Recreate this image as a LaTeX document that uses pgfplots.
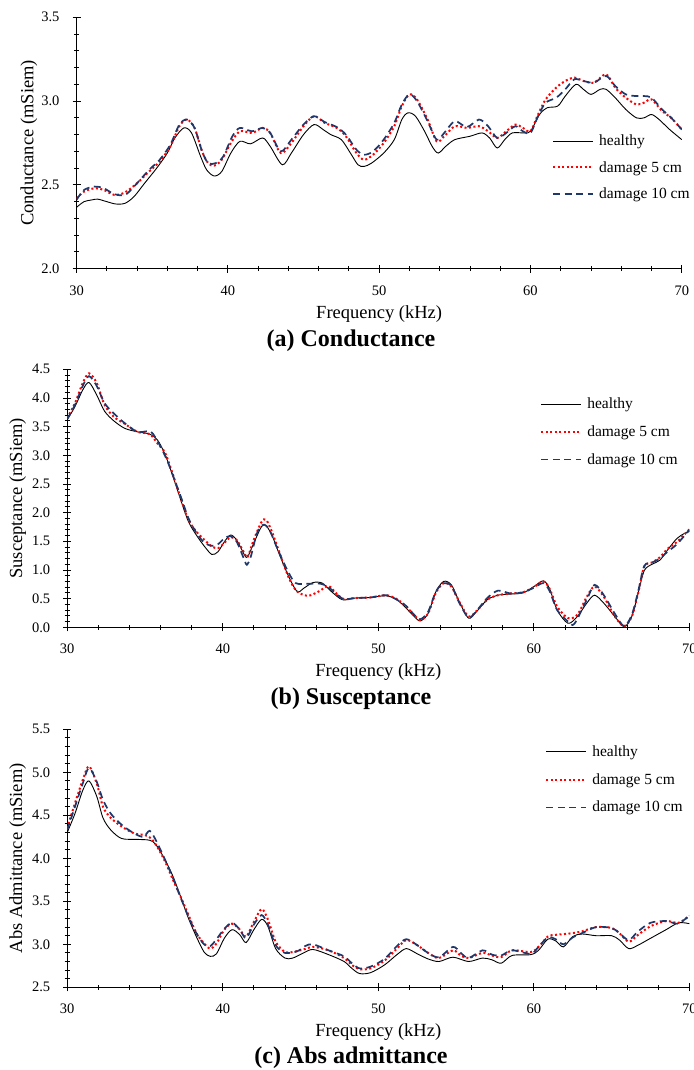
\documentclass[border=0pt]{standalone}
\usepackage{fontspec}
\setmainfont{Liberation Serif}
\usepackage{pgfplots}
\pgfplotsset{compat=1.18}
\definecolor{dmgblue}{RGB}{31,56,108}

\pgfplotsset{
  admit/.style={
    scale only axis,
    axis lines=left,
    axis line style={-, line width=1.1pt},
    xmin=30, xmax=70, xtick={30,40,...,70}, minor x tick num=4,
    minor y tick num=4,
    tick align=center,
    major tick length=8pt, minor tick length=5pt,
    every tick/.append style={black, line width=0.9pt},
    tick label style={font=\fontsize{14.5}{16}\selectfont},
    /pgf/number format/assume math mode=true,
    y tick label style={/pgf/number format/fixed, /pgf/number format/fixed zerofill, /pgf/number format/precision=1},
    yticklabel shift=9.5pt,
    xticklabel shift=9.5pt,
    label style={font=\fontsize{18.5}{20}\selectfont},
    xlabel={Frequency (kHz)},
    xlabel style={at={(axis description cs:0.5,0)}, anchor=center, yshift=-45pt},
    legend cell align=left,
    legend style={draw=none, fill=none, inner sep=0pt, anchor=north west,
      font=\fontsize{15.5}{17}\selectfont,
      nodes={inner sep=1pt},
      /tikz/every odd column/.append style={column sep=4pt}},
    legend image code/.code={\draw[##1] (0pt,0pt) -- (40pt,0pt);},
  },
  healthy/.style={black, line width=0.9pt, smooth, tension=0.5},
  dmgfive/.style={red, line width=2pt, dash pattern=on 2pt off 2.5pt, smooth, tension=0.5},
  dmgten/.style={dmgblue, line width=1.7pt, dash pattern=on 7pt off 4.5pt, smooth, tension=0.5},
}

\begin{document}
\begin{tikzpicture}
\useasboundingbox (0,0) rectangle (693pt,1070pt);

% (a) conductance
\begin{axis}[admit,
  at={(76.5pt,801.3pt)}, anchor=south west,
  width=605.3pt, height=251.4pt,
  ymin=2.0, ymax=3.5, ytick={2.0,2.5,3.0,3.5},
  ylabel={Conductance (mSiem)},
  ylabel style={at={(axis description cs:-0.0785,0.5)}, anchor=center},
  legend style={at={(axis description cs:0.7856,0.537)}, row sep=12.2pt},
]
\addplot[healthy] coordinates {(30,2.366) (30.5,2.40) (31,2.41) (31.4,2.415) (32,2.40) (32.6,2.386) (33.2,2.39) (33.8,2.43) (34.5,2.51) (35.3,2.60) (36,2.69) (36.5,2.78) (37.1,2.84) (37.6,2.81) (38.2,2.67) (38.6,2.59) (39.1,2.553) (39.6,2.58) (40.2,2.69) (40.8,2.76) (41.5,2.745) (42.3,2.78) (42.8,2.73) (43.6,2.62) (44.2,2.69) (45,2.80) (45.7,2.86) (46.3,2.83) (46.8,2.80) (47.5,2.77) (48.1,2.69) (48.6,2.62) (49,2.61) (49.5,2.63) (50.3,2.69) (51,2.77) (51.5,2.89) (51.9,2.93) (52.4,2.91) (53,2.82) (53.5,2.73) (53.9,2.69) (54.4,2.73) (55,2.77) (56,2.79) (56.8,2.81) (57.3,2.78) (57.8,2.72) (58.3,2.77) (58.8,2.81) (59.6,2.81) (60,2.82) (60.6,2.92) (61.1,2.96) (61.8,2.97) (62.3,3.03) (63,3.10) (63.5,3.07) (64,3.04) (64.6,3.07) (65,3.07) (65.6,3.02) (66.3,2.95) (67,2.90) (67.5,2.90) (68,2.92) (68.5,2.89) (69.2,2.83) (70,2.77)};
\addlegendentry{healthy}
\addplot[dmgfive] coordinates {(30,2.42) (30.5,2.46) (31.2,2.48) (31.8,2.47) (32.5,2.44) (33.2,2.455) (34,2.51) (34.8,2.58) (35.5,2.64) (36.2,2.73) (36.8,2.85) (37.3,2.89) (37.8,2.84) (38.3,2.70) (38.7,2.63) (39.1,2.615) (39.6,2.65) (40.2,2.75) (40.8,2.82) (41.6,2.81) (42.3,2.84) (42.8,2.81) (43.5,2.69) (44.2,2.75) (45,2.85) (45.7,2.91) (46.4,2.87) (47.2,2.84) (47.8,2.79) (48.5,2.69) (49,2.65) (49.6,2.68) (50.3,2.75) (51,2.85) (51.5,2.97) (52,3.04) (52.5,3.01) (53.2,2.89) (53.8,2.76) (54.3,2.79) (55,2.85) (55.8,2.84) (56.6,2.85) (57.2,2.82) (57.8,2.78) (58.4,2.82) (59,2.86) (59.5,2.84) (60,2.82) (60.5,2.92) (61,3.01) (61.7,3.08) (62.3,3.12) (62.9,3.14) (63.5,3.12) (64.2,3.11) (65,3.16) (65.6,3.08) (66.3,3.02) (67,2.98) (67.5,2.99) (68,3.01) (68.7,2.94) (69.3,2.90) (70,2.83)};
\addlegendentry{damage 5 cm}
\addplot[dmgten] coordinates {(30,2.41) (30.5,2.47) (31.2,2.49) (31.8,2.48) (32.5,2.445) (33.2,2.44) (33.8,2.49) (34.8,2.59) (35.5,2.65) (36.2,2.74) (36.8,2.86) (37.3,2.89) (37.8,2.84) (38.3,2.70) (38.7,2.63) (39.2,2.63) (39.7,2.67) (40.3,2.79) (40.8,2.84) (41.6,2.82) (42.3,2.84) (42.8,2.81) (43.5,2.70) (44.2,2.77) (45,2.86) (45.7,2.91) (46.4,2.875) (47.2,2.845) (47.8,2.80) (48.5,2.71) (49,2.68) (49.6,2.70) (50.3,2.77) (51,2.87) (51.5,2.98) (52,3.04) (52.5,3.00) (53.2,2.88) (53.8,2.77) (54.3,2.81) (55,2.88) (55.8,2.845) (56.6,2.89) (57.2,2.85) (57.8,2.78) (58.4,2.81) (59,2.85) (59.5,2.82) (60,2.81) (60.5,2.91) (61,2.99) (61.7,3.02) (62.3,3.07) (62.9,3.13) (63.5,3.12) (64.2,3.11) (65,3.15) (65.6,3.09) (66.3,3.04) (67,3.03) (67.5,3.03) (68,3.02) (68.7,2.95) (69.3,2.90) (70,2.83)};
\addlegendentry{damage 10 cm}
\end{axis}

% (b) susceptance
\begin{axis}[admit,
  at={(67.2pt,442.7pt)}, anchor=south west,
  width=622.2pt, height=258pt,
  ymin=0, ymax=4.5, ytick={0,0.5,...,4.5},
  ylabel={Susceptance (mSiem)},
  ylabel style={at={(axis description cs:-0.0796,0.5)}, anchor=center},
  legend style={at={(axis description cs:0.760,0.894)}, row sep=13.5pt},
]
\addplot[healthy] coordinates {(30,3.62) (30.5,3.85) (31,4.14) (31.4,4.27) (31.9,4.05) (32.4,3.77) (33,3.60) (33.7,3.47) (34.5,3.41) (35.3,3.37) (35.8,3.27) (36.3,3.01) (36.8,2.63) (37.3,2.22) (37.8,1.84) (38.3,1.61) (38.8,1.42) (39.3,1.27) (39.7,1.32) (40.1,1.49) (40.5,1.61) (40.9,1.52) (41.4,1.26) (41.6,1.23) (42,1.47) (42.5,1.76) (42.8,1.77) (43.2,1.58) (43.7,1.23) (44.3,0.85) (44.8,0.62) (45.2,0.68) (45.8,0.78) (46.4,0.77) (47,0.62) (47.7,0.48) (48.5,0.51) (49.5,0.52) (50.5,0.55) (51.2,0.48) (51.8,0.33) (52.3,0.19) (52.7,0.11) (53.2,0.24) (53.7,0.62) (54.2,0.80) (54.7,0.74) (55.2,0.45) (55.8,0.16) (56.3,0.27) (57,0.48) (57.7,0.56) (58.5,0.58) (59.3,0.60) (60,0.71) (60.6,0.81) (61,0.68) (61.5,0.30) (62.2,0.07) (62.8,0.19) (63.4,0.42) (63.9,0.56) (64.5,0.42) (65.2,0.19) (65.8,0.01) (66.3,0.19) (66.7,0.59) (67.1,0.99) (67.6,1.10) (68.1,1.17) (68.6,1.35) (69.2,1.55) (69.7,1.64) (70,1.67)};
\addlegendentry{healthy}
\addplot[dmgfive] coordinates {(30,3.65) (30.5,3.91) (31,4.26) (31.4,4.43) (31.9,4.26) (32.4,3.88) (33,3.67) (33.7,3.55) (34.5,3.41) (35.3,3.37) (35.8,3.21) (36.3,3.04) (36.8,2.66) (37.3,2.25) (37.8,1.87) (38.3,1.67) (38.8,1.53) (39.3,1.41) (39.7,1.38) (40.1,1.47) (40.5,1.57) (40.9,1.52) (41.4,1.29) (41.6,1.23) (42,1.53) (42.5,1.84) (42.8,1.87) (43.2,1.64) (43.7,1.26) (44.3,0.83) (44.8,0.62) (45.5,0.55) (46.2,0.63) (46.8,0.72) (47.3,0.59) (47.8,0.49) (48.5,0.51) (49.5,0.52) (50.5,0.56) (51.2,0.49) (51.8,0.36) (52.3,0.21) (52.7,0.13) (53.2,0.24) (53.7,0.60) (54.2,0.77) (54.7,0.71) (55.2,0.45) (55.8,0.19) (56.3,0.28) (57,0.48) (57.7,0.56) (58.5,0.59) (59.3,0.61) (60,0.70) (60.6,0.80) (61,0.68) (61.5,0.36) (62.2,0.16) (62.8,0.22) (63.4,0.53) (63.9,0.71) (64.5,0.53) (65.2,0.19) (65.8,0.02) (66.3,0.19) (66.7,0.59) (67.1,1.06) (67.6,1.13) (68.1,1.22) (68.6,1.37) (69.2,1.49) (70,1.71)};
\addlegendentry{damage 5 cm}
\addplot[dmgten] coordinates {(30,3.63) (30.5,3.88) (31,4.21) (31.4,4.38) (31.9,4.21) (32.4,3.91) (33,3.73) (33.7,3.56) (34.5,3.41) (35.2,3.42) (35.5,3.38) (36,3.15) (36.5,2.86) (37.3,2.28) (37.8,1.90) (38.3,1.65) (38.8,1.48) (39.3,1.42) (39.7,1.45) (40.1,1.55) (40.5,1.59) (40.9,1.49) (41.4,1.17) (41.55,1.09) (41.8,1.23) (42.2,1.64) (42.6,1.79) (43,1.70) (43.5,1.38) (44.2,0.97) (44.7,0.77) (45.5,0.76) (46.3,0.76) (46.8,0.70) (47.3,0.58) (47.8,0.49) (48.5,0.51) (49.5,0.52) (50.5,0.56) (51.2,0.48) (51.8,0.37) (52.3,0.22) (52.7,0.14) (53.2,0.27) (53.7,0.62) (54.2,0.77) (54.7,0.72) (55.2,0.43) (55.8,0.17) (56.3,0.28) (57,0.51) (57.7,0.64) (58.5,0.59) (59.3,0.61) (60,0.69) (60.6,0.77) (61,0.64) (61.5,0.30) (62.2,0.10) (62.6,0.06) (63.4,0.48) (63.9,0.74) (64.5,0.56) (65.2,0.24) (65.8,0.02) (66.3,0.22) (66.7,0.62) (67.1,1.07) (67.6,1.13) (68.1,1.20) (68.6,1.32) (69.2,1.45) (70,1.70)};
\addlegendentry{damage 10 cm}
\end{axis}

% (c) abs admittance
\begin{axis}[admit,
  at={(67.2pt,82.7pt)}, anchor=south west,
  width=622.2pt, height=258pt,
  ymin=2.5, ymax=5.5, ytick={2.5,3.0,...,5.5},
  ylabel={Abs Admittance (mSiem)},
  ylabel style={at={(axis description cs:-0.0796,0.5)}, anchor=center},
  legend style={at={(axis description cs:0.768,0.941)}, row sep=13.5pt},
]
\addplot[healthy] coordinates {(30,4.30) (30.5,4.52) (31,4.79) (31.4,4.90) (31.9,4.72) (32.3,4.47) (32.8,4.33) (33.5,4.23) (34.5,4.22) (35.3,4.21) (35.7,4.16) (36.3,3.98) (36.8,3.79) (37.3,3.55) (37.8,3.30) (38.3,3.09) (38.8,2.91) (39.2,2.86) (39.6,2.89) (40.1,3.07) (40.6,3.17) (41.1,3.11) (41.5,3.02) (42,3.17) (42.5,3.29) (42.9,3.21) (43.4,2.95) (44,2.84) (44.5,2.84) (45.2,2.90) (45.8,2.94) (46.8,2.88) (47.8,2.80) (48.3,2.72) (48.8,2.66) (49.5,2.67) (50.4,2.76) (51.2,2.88) (51.8,2.95) (52.5,2.89) (53.2,2.83) (53.9,2.80) (54.8,2.85) (55.8,2.80) (56.7,2.84) (57.3,2.82) (57.9,2.78) (58.6,2.87) (59.8,2.88) (60.3,2.93) (60.9,3.06) (61.4,3.04) (61.9,2.97) (62.5,3.09) (63.1,3.12) (64,3.10) (65,3.10) (65.5,3.05) (66.1,2.95) (66.7,2.99) (67.5,3.07) (68.5,3.17) (69.3,3.25) (70,3.24)};
\addlegendentry{healthy}
\addplot[dmgfive] coordinates {(30,4.35) (30.5,4.64) (31,4.91) (31.4,5.07) (31.9,4.87) (32.3,4.60) (32.8,4.47) (33.5,4.37) (34.3,4.29) (35,4.27) (35.4,4.23) (35.8,4.13) (36.3,3.96) (36.8,3.75) (37.3,3.55) (37.8,3.34) (38.3,3.13) (38.8,3.01) (39.2,2.95) (39.6,3.01) (40.1,3.17) (40.6,3.24) (41.1,3.17) (41.5,3.09) (42,3.26) (42.5,3.41) (42.9,3.29) (43.4,3.03) (44,2.91) (44.5,2.91) (45.2,2.94) (45.8,2.97) (46.8,2.93) (47.8,2.84) (48.3,2.76) (48.8,2.71) (49.5,2.72) (50.4,2.81) (51.2,2.95) (51.8,3.05) (52.5,2.99) (53.2,2.90) (53.9,2.84) (54.8,2.93) (55.3,2.87) (55.8,2.84) (56.7,2.90) (57.3,2.87) (57.9,2.85) (58.6,2.93) (59.8,2.91) (60.3,2.97) (60.9,3.09) (61.4,3.11) (62,3.12) (62.5,3.13) (63.1,3.15) (64,3.20) (65,3.19) (65.5,3.13) (66.1,3.03) (66.7,3.11) (67.5,3.21) (68.5,3.27) (69.3,3.25) (70,3.33)};
\addlegendentry{damage 5 cm}
\addplot[dmgten] coordinates {(30,4.33) (30.5,4.60) (31,4.87) (31.4,5.05) (31.9,4.89) (32.3,4.68) (32.8,4.52) (33.5,4.39) (34.3,4.29) (34.9,4.25) (35.3,4.32) (35.7,4.21) (36.3,3.98) (36.8,3.77) (37.3,3.54) (37.8,3.32) (38.3,3.13) (38.8,3.00) (39.2,2.98) (39.6,3.06) (40.1,3.18) (40.6,3.25) (41.1,3.17) (41.5,3.07) (42,3.23) (42.5,3.34) (42.9,3.23) (43.4,2.99) (44,2.90) (44.8,2.92) (45.3,2.98) (45.8,3.00) (46.8,2.93) (47.8,2.86) (48.3,2.78) (48.8,2.72) (49.5,2.74) (50.4,2.83) (51.2,2.98) (51.8,3.06) (52.5,2.99) (53.2,2.90) (53.9,2.85) (54.8,2.97) (55.3,2.90) (55.8,2.84) (56.7,2.93) (57.3,2.88) (57.9,2.87) (58.6,2.93) (59.8,2.89) (60.3,2.97) (60.9,3.08) (61.4,3.06) (61.9,3.00) (62.5,3.08) (63.1,3.13) (64,3.20) (65,3.19) (65.5,3.13) (66.1,3.05) (66.7,3.15) (67.5,3.25) (68.5,3.27) (69.3,3.24) (70,3.34)};
\addlegendentry{damage 10 cm}
\end{axis}

\node[font=\bfseries\fontsize{24}{26}\selectfont] at (351pt,729pt) {(a) Conductance};
\node[font=\bfseries\fontsize{24}{26}\selectfont] at (351pt,371pt) {(b) Susceptance};
\node[font=\bfseries\fontsize{24}{26}\selectfont] at (351pt,12pt) {(c) Abs admittance};
\end{tikzpicture}
\end{document}
